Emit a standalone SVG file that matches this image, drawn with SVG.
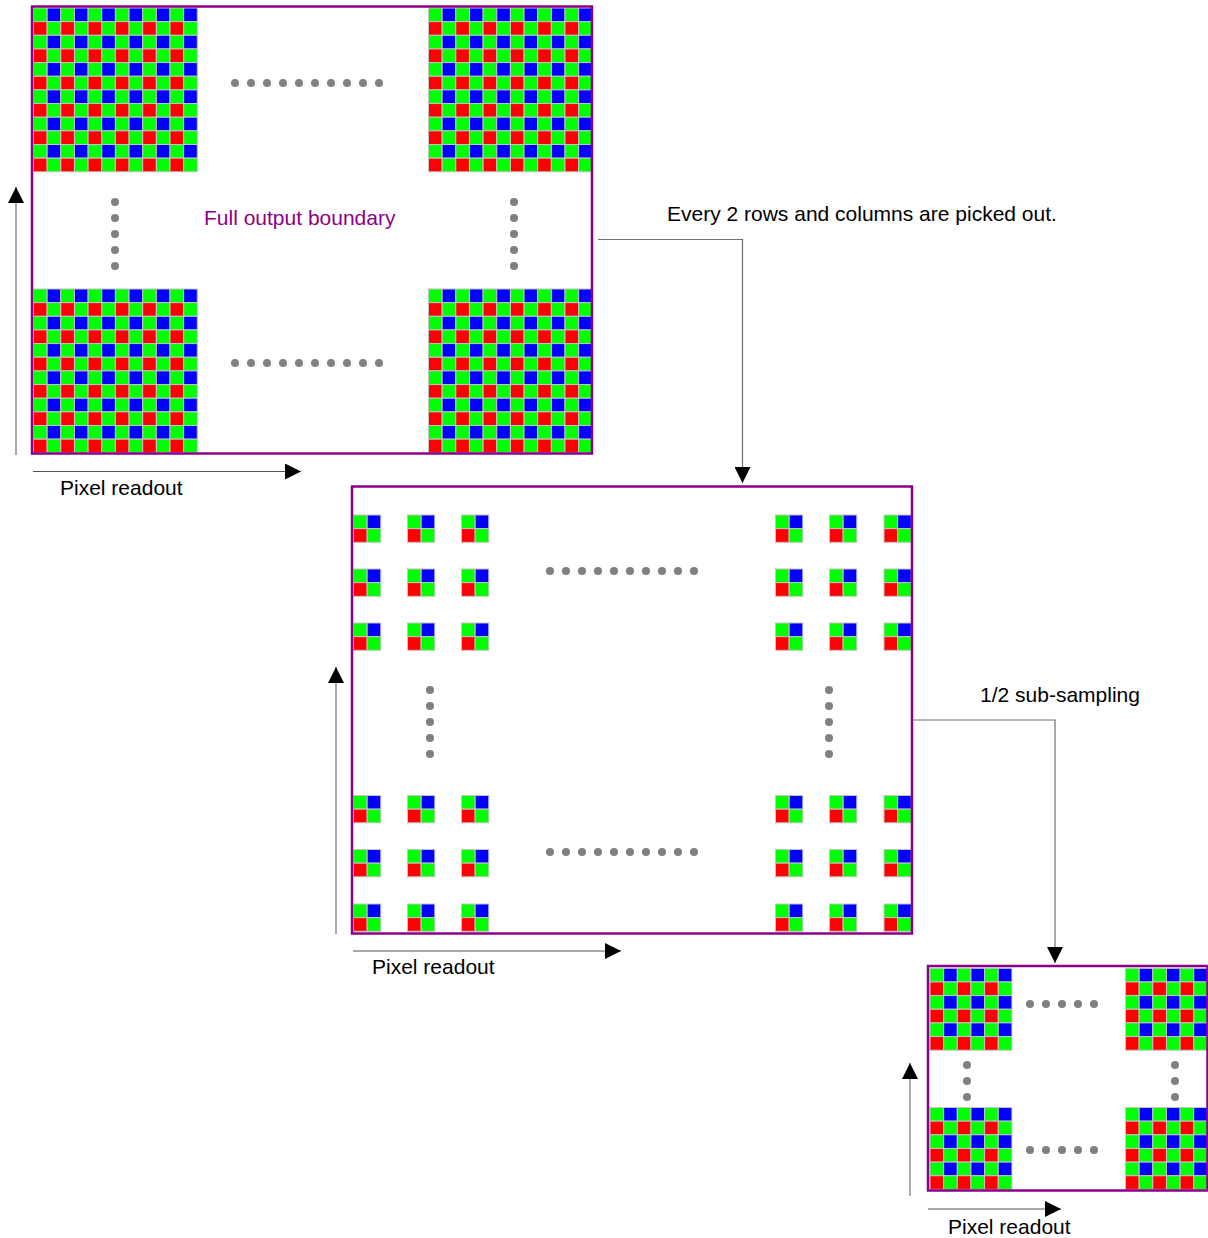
<svg xmlns="http://www.w3.org/2000/svg" xmlns:xlink="http://www.w3.org/1999/xlink" width="1208" height="1238" viewBox="0 0 1208 1238">
<style>
.frame{fill:none;stroke:#8b008b;stroke-width:2.5}
.g{fill:#00ff00}.b{fill:#0000ff}.r{fill:#ff0000}
.cell{stroke:#c4c4c4;stroke-width:1}
.dot{fill:#808080}
.ax{fill:none;stroke:#555;stroke-width:1}
.conn{fill:none;stroke:#707070;stroke-width:1.2}
.lbl{font-family:"Liberation Sans",Arial,sans-serif;font-size:21px;fill:#000}
.purple{fill:#8b008b}
</style>
<defs>
<marker id="ah" markerUnits="userSpaceOnUse" markerWidth="16" markerHeight="16" refX="16" refY="8" orient="auto">
<path d="M0,0 L16,8 L0,16 Z" fill="#000"/>
</marker>
<g id="q" class="cell">
<rect class="g" x="0" y="0" width="13.65" height="13.65"/>
<rect class="b" x="13.65" y="0" width="13.65" height="13.65"/>
<rect class="r" x="0" y="13.65" width="13.65" height="13.65"/>
<rect class="g" x="13.65" y="13.65" width="13.65" height="13.65"/>
</g>
<g id="row6">
<use href="#q" x="0"/><use href="#q" x="27.3"/><use href="#q" x="54.6"/>
</g>
<g id="g6">
<use href="#row6" y="0"/><use href="#row6" y="27.3"/><use href="#row6" y="54.6"/>
</g>
<g id="row12">
<use href="#row6" x="0"/><use href="#row6" x="81.9"/>
</g>
<g id="g12">
<use href="#row12" y="0"/><use href="#row12" y="27.3"/><use href="#row12" y="54.6"/>
<use href="#row12" y="81.9"/><use href="#row12" y="109.2"/><use href="#row12" y="136.5"/>
</g>
<g id="h10" class="dot">
<circle cx="0" cy="0" r="4"/><circle cx="16" cy="0" r="4"/><circle cx="32" cy="0" r="4"/><circle cx="48" cy="0" r="4"/><circle cx="64" cy="0" r="4"/>
<circle cx="80" cy="0" r="4"/><circle cx="96" cy="0" r="4"/><circle cx="112" cy="0" r="4"/><circle cx="128" cy="0" r="4"/><circle cx="144" cy="0" r="4"/>
</g>
<g id="v5" class="dot">
<circle cx="0" cy="0" r="4"/><circle cx="0" cy="16" r="4"/><circle cx="0" cy="32" r="4"/><circle cx="0" cy="48" r="4"/><circle cx="0" cy="64" r="4"/>
</g>
<g id="h5" class="dot">
<circle cx="0" cy="0" r="4"/><circle cx="16" cy="0" r="4"/><circle cx="32" cy="0" r="4"/><circle cx="48" cy="0" r="4"/><circle cx="64" cy="0" r="4"/>
</g>
<g id="v3" class="dot">
<circle cx="0" cy="0" r="4"/><circle cx="0" cy="16" r="4"/><circle cx="0" cy="32" r="4"/>
</g>
</defs>
<rect width="1208" height="1238" fill="#fff"/>

<g id="full-output">
<use href="#g12" x="33.5" y="8"/>
<use href="#g12" x="428.5" y="8"/>
<use href="#g12" x="33.5" y="289"/>
<use href="#g12" x="428.5" y="289"/>
<use href="#h10" x="235" y="83"/>
<use href="#h10" x="235" y="363"/>
<use href="#v5" x="115" y="202"/>
<use href="#v5" x="514" y="202"/>
<rect class="frame" x="32" y="6.5" width="560" height="447"/>
<text class="lbl purple" x="204" y="225">Full output boundary</text>
</g>

<g id="picked">
<g id="picked-blocks">
<use href="#q" x="353.5" y="515"/><use href="#q" x="407.5" y="515"/><use href="#q" x="461.5" y="515"/>
<use href="#q" x="353.5" y="569"/><use href="#q" x="407.5" y="569"/><use href="#q" x="461.5" y="569"/>
<use href="#q" x="353.5" y="623"/><use href="#q" x="407.5" y="623"/><use href="#q" x="461.5" y="623"/>
<use href="#q" x="775.5" y="515"/><use href="#q" x="829.5" y="515"/><use href="#q" x="884" y="515"/>
<use href="#q" x="775.5" y="569"/><use href="#q" x="829.5" y="569"/><use href="#q" x="884" y="569"/>
<use href="#q" x="775.5" y="623"/><use href="#q" x="829.5" y="623"/><use href="#q" x="884" y="623"/>
<use href="#q" x="353.5" y="795.5"/><use href="#q" x="407.5" y="795.5"/><use href="#q" x="461.5" y="795.5"/>
<use href="#q" x="353.5" y="849.5"/><use href="#q" x="407.5" y="849.5"/><use href="#q" x="461.5" y="849.5"/>
<use href="#q" x="353.5" y="904"/><use href="#q" x="407.5" y="904"/><use href="#q" x="461.5" y="904"/>
<use href="#q" x="775.5" y="795.5"/><use href="#q" x="829.5" y="795.5"/><use href="#q" x="884" y="795.5"/>
<use href="#q" x="775.5" y="849.5"/><use href="#q" x="829.5" y="849.5"/><use href="#q" x="884" y="849.5"/>
<use href="#q" x="775.5" y="904"/><use href="#q" x="829.5" y="904"/><use href="#q" x="884" y="904"/>
</g>
<use href="#h10" x="550" y="571"/>
<use href="#h10" x="550" y="852"/>
<use href="#v5" x="430" y="690"/>
<use href="#v5" x="829" y="690"/>
<rect class="frame" x="352" y="486.5" width="560" height="447"/>
</g>

<g id="subsampled">
<use href="#g6" x="930" y="968.3"/>
<use href="#g6" x="1125.5" y="968.3"/>
<use href="#g6" x="930" y="1107.5"/>
<use href="#g6" x="1125.5" y="1107.5"/>
<use href="#h5" x="1030" y="1004"/>
<use href="#h5" x="1030" y="1150"/>
<use href="#v3" x="967" y="1065"/>
<use href="#v3" x="1175" y="1065"/>
<rect class="frame" x="928" y="966" width="279.5" height="224.5"/>
</g>

<g id="readout-1">
<line class="ax" x1="16" y1="455" x2="16" y2="187" marker-end="url(#ah)"/>
<line class="ax" x1="33" y1="471.5" x2="301" y2="471.5" marker-end="url(#ah)"/>
<text class="lbl" x="60" y="495">Pixel readout</text>
</g>
<g id="readout-2">
<line class="ax" x1="336" y1="934" x2="336" y2="667" marker-end="url(#ah)"/>
<line class="ax" x1="353" y1="951" x2="621" y2="951" marker-end="url(#ah)"/>
<text class="lbl" x="372" y="974">Pixel readout</text>
</g>
<g id="readout-3">
<line class="ax" x1="910" y1="1196" x2="910" y2="1063" marker-end="url(#ah)"/>
<line class="ax" x1="928" y1="1209" x2="1061" y2="1209" marker-end="url(#ah)"/>
<text class="lbl" x="948" y="1234">Pixel readout</text>
</g>

<g id="connectors">
<polyline class="conn" points="598,239.5 742.5,239.5 742.5,483" marker-end="url(#ah)"/>
<polyline class="conn" points="913,720 1055,720 1055,963" marker-end="url(#ah)"/>
</g>
<text class="lbl" x="667" y="221">Every 2 rows and columns are picked out.</text>
<text class="lbl" x="980" y="702">1/2 sub-sampling</text>
</svg>
